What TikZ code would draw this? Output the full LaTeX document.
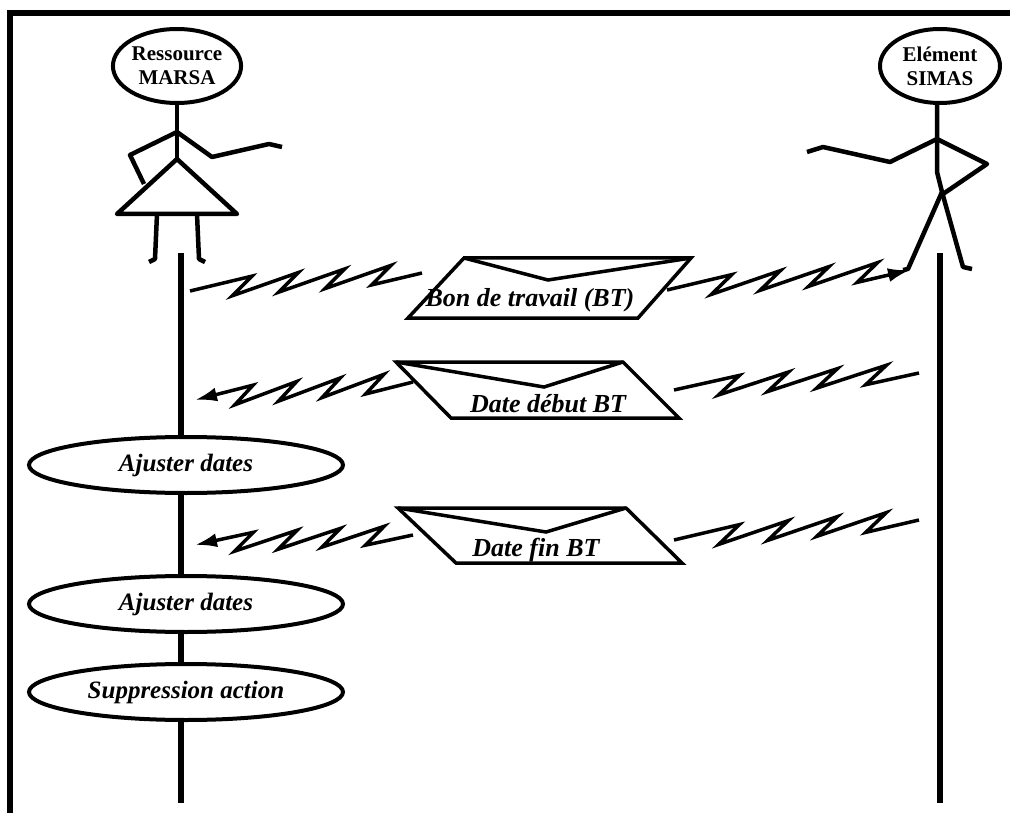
\documentclass[tikz,border=0pt]{standalone}
\usepackage{fontspec}
\setmainfont{Liberation Serif}
\usepackage{tikz}
\usetikzlibrary{positioning}
\usetikzlibrary{shapes.geometric,calc,arrows.meta}
\tikzset{frame/.style = {line width=6pt},
         life/.style = {line width=6pt},
         limb/.style = {line width=4.5pt, line join=round},
         zz/.style = {line width=3.5pt, line join=miter},
         env/.style = {line width=3.5pt, line join=miter},
         sendr/.style = {-{Latex[length=22pt,width=14pt]}},
         sendl/.style = {{Latex[length=22pt,width=14pt]}-}}

% lightning message line, always drawn left to right
\newcommand{\zzline}[3][]{%
  \draw[zz,#1] (#2)
    \foreach \i in {1,...,4}{
      -- ($(#2)!{(\i+0.35)/5}!(#3)!10pt!90:(#3)$)
      -- ($(#2)!{(\i-0.1)/5}!(#3)!-8pt!90:(#3)$)
    } -- (#3);}

\begin{document}
\begin{tikzpicture}[x=1pt,y=-1pt,
    head/.style={ellipse,draw,line width=4pt,minimum width=120pt,minimum height=74pt,inner sep=0pt,align=center,font=\bfseries\fontsize{21}{24}\selectfont},
    action/.style={ellipse,draw,fill=white,line width=4pt,minimum width=314pt,minimum height=56pt,inner sep=0pt,font=\bfseries\itshape\fontsize{25}{27}\selectfont},
    envtext/.style={inner sep=0pt,font=\bfseries\itshape\fontsize{26}{28}\selectfont}]
    \useasboundingbox (0,0) rectangle (1010,813);
    \draw[frame] (1010,13) -- (10,13) -- (10,813);

    % lifelines
    \coordinate (top1) at (181,253);
    \coordinate (bot1) at (181,803);
    \coordinate (top2) at (940,253);
    \coordinate (bot2) at (940,803);
    \draw[life] (top1) -- (bot1);
    \draw[life] (top2) -- (bot2);

    \node[action] (adj1) at (186,465) {Ajuster dates};
    \node[action] (adj2) [below=79pt of adj1] {Ajuster dates};
    \node[action] (adj3) [below=28pt of adj2] {Suppression action};

    % actors
    \node[head] (marsa) at (177,66) {Ressource\\MARSA};
    \node[head] (simas) at (940,66) {Elément\\SIMAS};

    \coordinate (sh1) at ($(marsa.south)+(0,27)$);
    \coordinate (hip1) at ($(marsa.south)+(0,54)$);
    \draw[limb] (marsa.south) -- (hip1);
    \draw[limb] (sh1) -- ++(35,25) -- ++(57,-13) -- ++(13,3);
    \draw[limb] (sh1) -- ++(-47,23) -- ++(14,29);
    \draw[limb] (hip1) -- ++(-60,55) -- ++(120,0) -- cycle;
    \draw[limb] ($(hip1)+(-20,55)$) -- ++(-2,45) -- ++(-6,3);
    \draw[limb] ($(hip1)+(20,55)$) -- ++(2,45) -- ++(6,3);

    \coordinate (sh2) at ($(simas.south)+(-3,34)$);
    \draw[limb] (simas.south -| sh2) -- (sh2) -- ++(0,33) -- ++(5,20) coordinate (hip2);
    \draw[limb] (sh2) -- ++(-47,23) -- ++(-67,-15) -- ++(-16,5);
    \draw[limb] (sh2) -- ++(50,25) -- ++(-44,30);
    \draw[limb] (hip2) -- ++(-34,77) -- ++(-5,1);
    \draw[limb] (hip2) -- ++(21,75) -- ++(9,2);

    % Bon de travail
    \draw[env] (464,258) -- (691,258) -- (638,318) -- (408,318) -- cycle;
    \draw[env] (464,258) -- (548,280) -- (691,258);
    \node[envtext] (bt) at (530,300) {Bon de travail (BT)};
    \coordinate (a1) at (190,291);
    \coordinate (b1) at (422,273);
    \coordinate (c1) at (667,290);
    \coordinate (d1) at (910,270);
    \zzline{a1}{b1}
    \zzline[sendr]{c1}{d1}

    % Date debut
    \draw[env] (396,362) -- (623,362) -- (679,418) -- (451,418) -- cycle;
    \draw[env] (396,362) -- (544,387) -- (623,362);
    \node[envtext] (debut) at (548,404) {Date début BT};
    \coordinate (a2) at (195,400);
    \coordinate (b2) at (413,382);
    \coordinate (c2) at (674,390);
    \coordinate (d2) at (919,373);
    \zzline[sendl]{a2}{b2}
    \zzline{c2}{d2}

    % Date fin
    \draw[env] (398,508) -- (626,508) -- (682,563) -- (456,563) -- cycle;
    \draw[env] (398,508) -- (546,532) -- (626,508);
    \node[envtext] (fin) at (536,550) {Date fin BT};
    \coordinate (a3) at (195,545);
    \coordinate (b3) at (413,535);
    \coordinate (c3) at (674,540);
    \coordinate (d3) at (919,520);
    \zzline[sendl]{a3}{b3}
    \zzline{c3}{d3}
\end{tikzpicture}
\end{document}
